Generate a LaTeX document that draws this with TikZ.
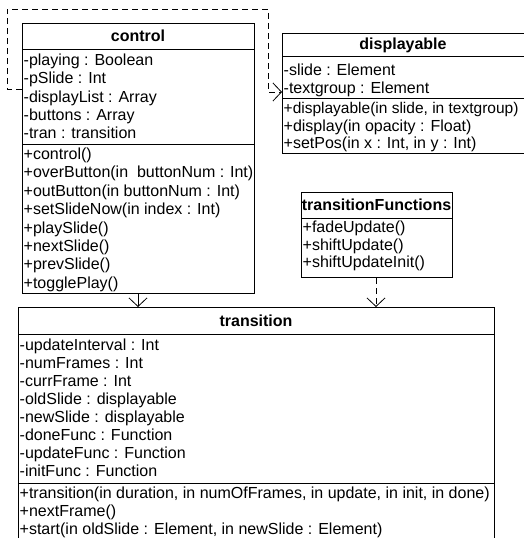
\documentclass[tikz,border=0pt]{standalone}
\usepackage{fontspec}
\setmainfont{Liberation Sans}
\usetikzlibrary{arrows.meta}
\begin{document}
\begin{tikzpicture}[x=1pt,y=-1pt,
  box/.style={draw,line width=1pt,anchor=north west,inner sep=0pt},
  sep/.style={line width=1pt},
  ttl/.style={font=\fontsize{16}{18}\selectfont\bfseries,inner sep=0pt},
  txt/.style={font=\fontsize{16}{18}\selectfont,anchor=base west,inner sep=0pt},
  dep/.style={line width=0.8pt,dash pattern=on 6pt off 4pt,-{Straight Barb[length=8.5pt,width=18pt,line width=0.8pt]}},
  gen/.style={line width=0.8pt,-{Straight Barb[length=8.5pt,width=18pt,line width=0.8pt]}}]
\useasboundingbox (0,0) rectangle (524,538);
% control
\node[box,minimum width=232pt,minimum height=270pt] (control) at (22,23) {};
\node[ttl] (controlT) at (138,36) {control};
\draw[sep] (22,49) -- (254,49);
\draw[sep] (22,144) -- (254,144);
\foreach \t [count=\i from 0] in {{-playing : Boolean},{-pSlide : Int},{-displayList : Array},{-buttons : Array},{-tran : transition}}
  \node[txt] (ca\i) at (23.5,65.5+\i*18.3) {\t};
\foreach \t [count=\i from 0] in {{+control()},{+overButton(in\ \ buttonNum : Int)},{+outButton(in buttonNum : Int)},{+setSlideNow(in index : Int)},{+playSlide()},{+nextSlide()},{+prevSlide()},{+togglePlay()}}
  \node[txt] (cm\i) at (23.5,159.5+\i*18.4) {\t};
% displayable
\node[box,minimum width=242pt,minimum height=120pt] (disp) at (282,33) {};
\node[ttl] (dispT) at (403,45) {displayable};
\draw[sep] (282,56) -- (524,56);
\draw[sep] (282,98) -- (524,98);
\foreach \t [count=\i from 0] in {{-slide : Element},{-textgroup : Element}}
  \node[txt] (da\i) at (283.5,75.5+\i*18) {\t};
\node[txt,font=\fontsize{15.5}{18}\selectfont] (dm0) at (283.5,113.5) {+displayable(in slide, in textgroup)};
\foreach \t [count=\i from 1] in {{+display(in opacity : Float)},{+setPos(in x : Int, in y : Int)}}
  \node[txt] (dm\i) at (283.5,113.5+\i*17.5) {\t};
% transitionFunctions
\node[box,minimum width=151pt,minimum height=85pt] (tf) at (301,192) {};
\node[ttl] (tfT) at (376.5,205) {transitionFunctions};
\draw[sep] (301,218) -- (452,218);
\foreach \t [count=\i from 0] in {{+fadeUpdate()},{+shiftUpdate()},{+shiftUpdateInit()}}
  \node[txt] (tfm\i) at (302.5,232.5+\i*17.5) {\t};
% transition
\node[box,minimum width=476pt,minimum height=240pt] (tr) at (18,307) {};
\node[ttl] (trT) at (256,321) {transition};
\draw[sep] (18,334) -- (494,334);
\draw[sep] (18,483) -- (494,483);
\foreach \t [count=\i from 0] in {{-updateInterval : Int},{-numFrames : Int},{-currFrame : Int},{-oldSlide : displayable},{-newSlide : displayable},{-doneFunc : Function},{-updateFunc : Function},{-initFunc : Function}}
  \node[txt] (ta\i) at (19.5,350+\i*18) {\t};
\foreach \t [count=\i from 0] in {{+transition(in duration, in numOfFrames, in update, in init, in done)},{+nextFrame()},{+start(in oldSlide : Element, in newSlide : Element)}}
  \node[txt] (tm\i) at (19.5,498+\i*18) {\t};
% connectors
\draw[gen] (control.south -| 138,0) -- (tr.north -| 138,0);
\draw[dep] (tf.south -| 376,0) -- (tr.north -| 376,0);
\coordinate (p1) at (7,89);
\coordinate (p2) at (7,9);
\coordinate (p3) at (268,9);
\coordinate (p4) at (268,92);
\draw[dep] (control.west |- p1) -- (p1) -- (p2) -- (p3) -- (p4) -- (disp.west |- p4);
\end{tikzpicture}
\end{document}
